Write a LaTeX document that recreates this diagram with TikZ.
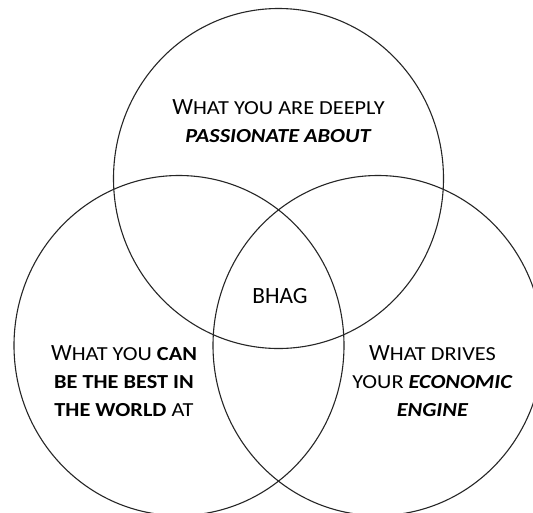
\documentclass[tikz,border=0pt]{standalone}
\usepackage{fontspec}
\setmainfont{Carlito}
\newfontfamily\scfont{Carlito}[FakeStretch=1.12]
\newcommand{\bigL}[1]{{\normalfont\fontsize{23.3}{28}\selectfont #1}}
\tikzset{
  ring/.style={draw=black!85, line width=1.1pt},
  lbl/.style={align=center, inner sep=0pt, text=black, font=\fontsize{19.9}{28}\selectfont\scfont},
}
\begin{document}
\begin{tikzpicture}[x=1pt,y=-1pt]
\useasboundingbox (0,0) rectangle (533,512);
\clip (0,0) rectangle (533,512);
\fill[white] (0,0) rectangle (533,512);
\draw[ring] (278.5,178.5) ellipse [x radius=165pt, y radius=170pt];
\draw[ring] (179,345.5) ellipse [x radius=165pt, y radius=170pt];
\draw[ring] (378,345.5) ellipse [x radius=165pt, y radius=170pt];
\node[lbl] (passion) at (278.5,121) {\bigL{W}HAT YOU ARE DEEPLY\\ \textbf{\textit{PASSIONATE ABOUT}}};
\node[lbl] (bhag) at (280,296) {\bigL{BHAG}};
\node[lbl] (best) at (124,381) {\bigL{W}HAT YOU \textbf{CAN}\\ \textbf{BE THE BEST IN}\\ \textbf{THE WORLD} AT};
\node[lbl] (engine) at (432.5,381) {\bigL{W}HAT DRIVES\\ YOUR \textbf{\textit{ECONOMIC}}\\ \textbf{\textit{ENGINE}}};
\end{tikzpicture}
\end{document}
